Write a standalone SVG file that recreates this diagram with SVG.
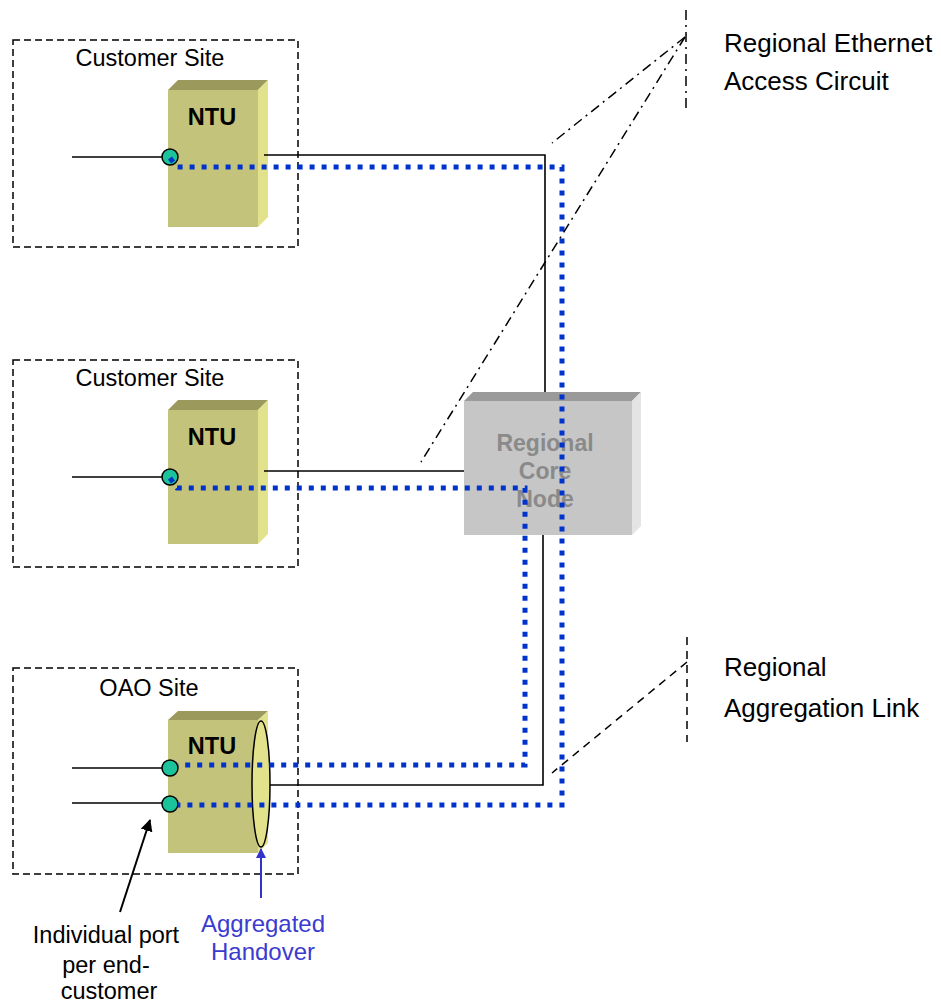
<svg xmlns="http://www.w3.org/2000/svg" width="941" height="1005" viewBox="0 0 941 1005">
<style>
.site{fill:none;stroke:#000;stroke-width:1.5;stroke-dasharray:7 4}
.lbl{font-family:"Liberation Sans",Arial,sans-serif;font-size:23.5px;fill:#000;text-anchor:middle}
.ntu-front{fill:#c4c37b}
.ntu-top{fill:#9b9a5c}
.ntu-side{fill:#e2e18c}
.ntu-t{font-family:"Liberation Sans",Arial,sans-serif;font-size:23.5px;font-weight:bold;fill:#000;text-anchor:middle}
.port{fill:#1cc39a;stroke:#000;stroke-width:1.5}
.blk{fill:none;stroke:#000;stroke-width:1.6}
.blu{fill:none;stroke:#0033cc;stroke-width:5;stroke-dasharray:5 7}
.dd{fill:none;stroke:#000;stroke-width:1.5;stroke-dasharray:10 5 2 5}
.dsh{fill:none;stroke:#000;stroke-width:1.5;stroke-dasharray:8 6}
.note{font-family:"Liberation Sans",Arial,sans-serif;font-size:26px;fill:#000}
.core-t{font-family:"Liberation Sans",Arial,sans-serif;font-size:23px;font-weight:bold;fill:#8a8a8a;text-anchor:middle}
.agg{font-family:"Liberation Sans",Arial,sans-serif;font-size:24px;fill:#3b3bd0;text-anchor:middle}
</style>
<defs>
<marker id="ahB" markerWidth="10" markerHeight="10" refX="9" refY="5" orient="auto" markerUnits="userSpaceOnUse" viewBox="0 0 10 10"><path d="M0,0 L10,5 L0,10 z" fill="#3333cc"/></marker>
<marker id="ahK" markerWidth="12" markerHeight="12" refX="11" refY="6" orient="auto" markerUnits="userSpaceOnUse" viewBox="0 0 12 12"><path d="M0,0 L12,6 L0,12 z" fill="#000"/></marker>
</defs>
<rect width="941" height="1005" fill="#fff"/>

<g id="site1">
<rect class="site" x="13" y="40" width="285" height="207"/>
<text class="lbl" x="150" y="66">Customer Site</text>
</g>
<g id="site2">
<rect class="site" x="13" y="360" width="285" height="207"/>
<text class="lbl" x="150" y="386">Customer Site</text>
</g>
<g id="site3">
<rect class="site" x="13" y="668" width="285" height="206"/>
<text class="lbl" x="149" y="696">OAO Site</text>
</g>

<g id="ntu1">
<rect class="ntu-front" x="168" y="90" width="90" height="137"/>
<polygon class="ntu-top" points="168,90 178,80 268,80 258,90"/>
<polygon class="ntu-side" points="258,90 268,80 268,217 258,227"/>
<text class="ntu-t" x="212" y="125">NTU</text>
<circle class="port" cx="170" cy="157" r="8"/>
</g>
<g id="ntu2">
<rect class="ntu-front" x="168" y="410" width="90" height="134"/>
<polygon class="ntu-top" points="168,410 178,400 268,400 258,410"/>
<polygon class="ntu-side" points="258,410 268,400 268,534 258,544"/>
<text class="ntu-t" x="212" y="445">NTU</text>
<circle class="port" cx="170" cy="477" r="8"/>
</g>
<g id="ntu3">
<rect class="ntu-front" x="168" y="720" width="90" height="133"/>
<polygon class="ntu-top" points="168,720 178,711 268,711 258,720"/>
<polygon class="ntu-side" points="258,720 268,711 268,843 258,853"/>
<text class="ntu-t" x="212" y="754">NTU</text>
<ellipse id="handover" cx="261" cy="784" rx="9" ry="63" fill="#e2e18c" stroke="#000" stroke-width="1.5"/>
<circle class="port" cx="170" cy="768" r="8"/>
<circle class="port" cx="170" cy="804" r="8"/>
</g>

<g id="core">
<rect x="464" y="401" width="168" height="134" fill="#c6c6c6"/>
<polygon points="464,401 473,392 641,392 632,401" fill="#9a9a9a"/>
<polygon points="632,401 641,392 641,526 632,535" fill="#e4e4e4"/>
<text class="core-t" x="545" y="451">Regional</text>
<text class="core-t" x="545" y="479">Core</text>
<text class="core-t" x="545" y="507">Node</text>
</g>

<g id="connectors">
<path class="blk" d="M72,157 H162" stroke-width="2.5"/>
<path class="blk" d="M72,477 H162" stroke-width="2"/>
<path class="blk" d="M72,768 H162"/>
<path class="blk" d="M72,803 H162"/>
<path class="blk" d="M264,155 H545 V392"/>
<path class="blk" d="M264,471 H464" stroke-width="2"/>
<path class="blk" d="M270,785 H543 V535"/>
<path class="blu" d="M170,158 L177,167 H562 V805 H178"/>
<path class="blu" d="M170,478 L177,488 H525 V765 H178"/>
<path class="dd" d="M686,10 V112"/>
<path class="dd" d="M685,37 L552,143"/>
<path class="dd" d="M685,37 L421,462"/>
<path class="dsh" d="M687,637 V742"/>
<path class="dsh" d="M687,662 L552,773"/>
<path d="M261,898 V849" fill="none" stroke="#3333cc" stroke-width="2" marker-end="url(#ahB)"/>
<path d="M120,912 L150,820" fill="none" stroke="#000" stroke-width="2" marker-end="url(#ahK)"/>
</g>

<g id="labels">
<text class="note" x="724" y="52">Regional Ethernet</text>
<text class="note" x="724" y="90">Access Circuit</text>
<text class="note" x="724" y="676">Regional</text>
<text class="note" x="724" y="717">Aggregation Link</text>
<text class="agg" x="263" y="932">Aggregated</text>
<text class="agg" x="263" y="960">Handover</text>
<text class="lbl" x="106" y="943">Individual port</text>
<text class="lbl" x="106" y="973">per end-</text>
<text class="lbl" x="109" y="999">customer</text>
</g>
</svg>
